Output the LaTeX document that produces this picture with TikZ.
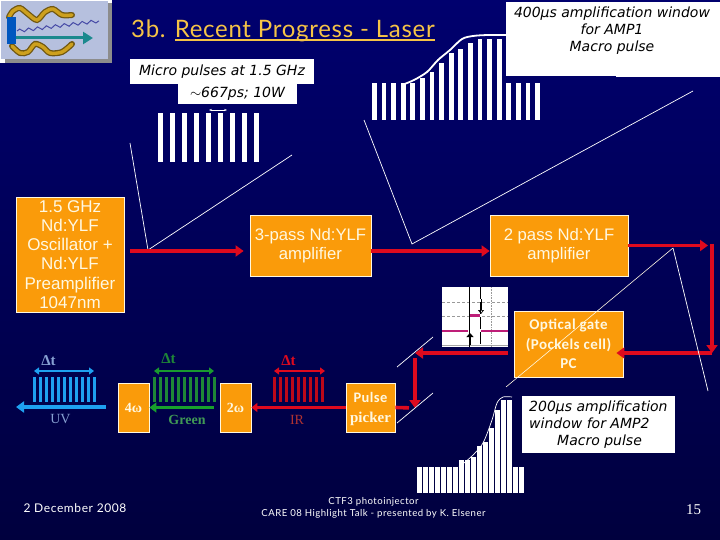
\documentclass[tikz,border=0pt]{standalone}
\usepackage{fontspec}
\setmainfont{Liberation Sans}
\newfontfamily\titlefont[LetterSpace=3]{Lato}
\newfontfamily\footfont[LetterSpace=5]{Lato}
\newfontfamily\notefont{DejaVu Sans}
\newfontfamily\serfont{Liberation Serif}
\newfontfamily\gatefont[LetterSpace=3]{Carlito}
\newcommand{\goldline}[1]{\setbox0=\hbox{#1}\rlap{\rule[-3.5pt]{\wd0}{2pt}}\box0}
\definecolor{navytop}{RGB}{0, 0, 110}
\definecolor{navymid}{RGB}{0, 0, 98}
\definecolor{navylow}{RGB}{0, 0, 62}
\definecolor{boxfill}{RGB}{250, 155, 10}
\definecolor{boxtext}{RGB}{255, 248, 225}
\definecolor{beam}{RGB}{222, 10, 30}
\definecolor{uvblue}{RGB}{30, 160, 240}
\definecolor{uvtext}{RGB}{135, 160, 210}
\definecolor{beamgreen}{RGB}{30, 135, 55}
\definecolor{irtext}{RGB}{175, 50, 50}
\definecolor{titlegold}{RGB}{245, 195, 70}
\definecolor{logoblue}{RGB}{182, 192, 222}
\definecolor{logogold}{RGB}{205, 160, 30}
\definecolor{scopetrace}{RGB}{190, 30, 120}
\usetikzlibrary{arrows.meta, calc, decorations.pathmorphing}
\tikzset{
  ampbox/.style={draw=boxtext, line width=0.8pt, fill=boxfill, text=boxtext, inner sep=0pt, align=center},
  notebox/.style={fill=white, text=black, inner sep=0pt, font=\notefont\itshape\fontsize{14}{17}\selectfont},
  beamline/.style={beam, line width=3.6pt},
  beamarrow/.style={beamline, -{Triangle[length=8pt,width=11pt]}},
  zoomline/.style={white, line width=0.7pt},
  dtarrow/.style={line width=2pt, {Triangle[length=5pt,width=7pt]}-{Triangle[length=5pt,width=7pt]}},
  dtlabel/.style={font=\serfont\bfseries\fontsize{15}{15}\selectfont, inner sep=0pt},
  wavelabel/.style={font=\serfont\fontsize{14}{14}\selectfont, inner sep=0pt}
}
\begin{document}
\begin{tikzpicture}[y=-1pt, x=1pt]
  \useasboundingbox (0,0) rectangle (720,540);
  \shade[top color=navytop, middle color=navymid, bottom color=navylow] (0,0) rectangle (720,540);

  \fill[white] (0,0) rectangle (112,63);
  \fill[black!45] (5,3) rectangle (112,63);
  \fill[logoblue] (1,1) rectangle (108,59);
  \draw[logogold!55!black, line width=6pt, line cap=round] plot[smooth] coordinates {(9,17) (13,11) (20,8) (28,14) (37,20) (45,12) (53,9) (62,15) (72,15)};
  \draw[logogold, line width=3.4pt, line cap=round] plot[smooth] coordinates {(9,17) (13,11) (20,8) (28,14) (37,20) (45,12) (53,9) (62,15) (72,15)};
  \draw[logogold!55!black, line width=6pt, line cap=round] plot[smooth] coordinates {(12,46) (20,53) (28,52) (35,44) (43,47) (50,53) (62,52) (72,44)};
  \draw[logogold, line width=3.4pt, line cap=round] plot[smooth] coordinates {(12,46) (20,53) (28,52) (35,44) (43,47) (50,53) (62,52) (72,44)};
  \draw[blue!45!logoblue!70!black, line width=1pt, decorate, decoration={snake, amplitude=1.6pt, segment length=9pt}] (17,31) -- (99,21);
  \draw[teal!85!logoblue, line width=3pt, -{Triangle[length=10pt,width=12pt]}] (16,38) -- (93,38);
  \fill[blue!55!cyan!75!black] (7,17) rectangle (16,44);

  \node[text=titlegold, font=\titlefont\fontsize{24}{24}\selectfont, anchor=base west, inner sep=0pt] (slidetitle) at (131,38) {3b. \goldline{Recent Progress - Laser}};

  \foreach \i in {0,...,8} {
    \fill[white] ({158+12*\i},113) rectangle ({163+12*\i},162);
  }
  \foreach \i/\top in {0/83,1/83,2/83,3/83,4/83,5/78,6/72,7/63,8/53,9/49,10/43,11/39,12/39,13/39,14/83,15/83,16/83,17/83} {
    \fill[white] ({372+9.6*\i},\top) rectangle ({376.8+9.6*\i},120);
  }
  \draw[white, line width=1.8pt] plot[smooth] coordinates {(402,85) (414,80) (427,72) (438,60) (450,50) (462,39) (473,36) (488,35) (508,35)};
  \draw[white, line width=1pt] (616,77) -- (720,77);
  \node[notebox, minimum width=214pt, minimum height=74pt, anchor=north west] (amponenote) at (506,2) {};
  \node[notebox, align=center] (amponetext) at (612,31) {400μs amplification window\\for AMP1\hspace{-3pt}\\Macro pulse\hspace{14pt}};

  \node[notebox, minimum width=184pt, minimum height=25pt] (microtop) at (222,71.5) {Micro pulses at 1.5 GHz};
  \node[notebox, minimum width=119pt, minimum height=20pt] (microlow) at (237.5,94) {$\sim$667ps; 10W};
  \coordinate (spacingleft) at (209,110);
  \coordinate (spacingright) at (227,110);
  \draw[white, line width=0.8pt, {Stealth[length=3pt]}-{Stealth[length=3pt]}] (spacingleft) -- (spacingright);

  \coordinate (viewoneA) at (130,143);
  \coordinate (viewoneB) at (148,250);
  \coordinate (viewoneC) at (292,155);
  \draw[zoomline] (viewoneA) -- (viewoneB) -- (viewoneC);
  \coordinate (viewtwoA) at (364,120);
  \coordinate (viewtwoB) at (412,244);
  \coordinate (viewtwoC) at (693,91);
  \draw[zoomline] (viewtwoA) -- (viewtwoB) -- (viewtwoC);

  \node[ampbox, minimum width=108pt, minimum height=115pt, font=\fontsize{17}{19.2}\selectfont] (oscillator) at (70,254.5) {1.5 GHz\\Nd:YLF\\Oscillator +\\Nd:YLF\\Preamplifier\\1047nm};
  \node[ampbox, minimum width=121pt, minimum height=61pt, font=\fontsize{16.7}{19}\selectfont] (threepass) at (310.5,245.5) {3-pass Nd:YLF\hspace{5pt}\\amplifier};
  \node[ampbox, minimum width=138pt, minimum height=61pt, font=\fontsize{16.7}{19}\selectfont] (twopass) at (559,245.5) {2 pass Nd:YLF\hspace{5pt}\\amplifier};
  \node[ampbox, minimum width=109pt, minimum height=66pt, font=\gatefont\bfseries\fontsize{15}{19.5}\selectfont] (opticalgate) at (568.5,344) {Optical gate\\(Pockels cell)\\PC};
  \node[ampbox, minimum width=31pt, minimum height=49pt, font=\serfont\bfseries\fontsize{14}{14}\selectfont] (fouromega) at (133.5,407.5) {4ω};
  \node[ampbox, minimum width=31pt, minimum height=49pt, font=\serfont\bfseries\fontsize{14}{14}\selectfont] (twoomega) at (235.5,407.5) {2ω};
  \node[ampbox, minimum width=49pt, minimum height=49pt, font=\gatefont\bfseries\fontsize{14.5}{20}\selectfont] (pulsepicker) at (370.5,407.5) {\rule{0pt}{14pt}Pulse\\{\serfont\fontsize{15}{20}\selectfont picker}};

  \fill[white] (442,287) rectangle (508,347);
  \draw[black!35, line width=0.8pt] (442,345) -- (508,345);
  \draw[black!40, densely dashed, line width=0.5pt] (442,302) -- (508,302);
  \draw[black!40, densely dashed, line width=0.5pt] (442,316) -- (508,316);
  \draw[black!40, densely dotted, line width=0.6pt] (491,287) -- (491,347);
  \draw[black, line width=0.8pt] (469,287) -- (469,347);
  \draw[black, line width=0.8pt, dash pattern=on 12pt off 3pt] (480,287) -- (480,347);
  \draw[scopetrace, line width=2.6pt] (442,331) -- (468,331);
  \draw[scopetrace, line width=2.6pt] (481,331) -- (508,331);
  \draw[scopetrace, line width=2.6pt] (470,315.5) -- (480,315.5);
  \draw[black, line width=1.3pt, -{Triangle[length=4pt,width=7pt]}] (470,345) -- (470,333);
  \draw[black, line width=0.7pt, -{Triangle[open,length=4pt,width=6pt]}] (481,299) -- (481,314);

  \coordinate (upperline) at (130,251);
  \coordinate (turnright) at (708,245.5);
  \coordinate (turntop) at (712,243.5);
  \coordinate (turnlow) at (712,353);
  \coordinate (mirrorup) at (415,353);
  \coordinate (mirrorlow) at (415,408);
  \draw[beamarrow, shorten <=6pt, shorten >=6pt] (oscillator.east |- upperline) -- (threepass.west |- upperline);
  \draw[beamarrow] (threepass.east |- upperline) -- (twopass.west |- upperline);
  \draw[beamarrow] (twopass.east) -- (turnright);
  \draw[beamline, -{Triangle[length=8pt,width=11pt]}] (turntop) -- (turnlow);
  \draw[beamarrow, shorten >=-7pt] (turnlow) -- (opticalgate.east |- turnlow);
  \draw[beamarrow, shorten <=6pt] (opticalgate.west |- turnlow) -- (mirrorup);
  \draw[beamarrow, shorten <=5pt] (mirrorup) -- (mirrorlow);
  \draw[beamline, shorten <=6pt] (mirrorlow) -- (pulsepicker.east);
  \draw[beamline, -{Triangle[length=6pt,width=9pt]}] (pulsepicker.west) -- (twoomega.east);
  \draw[beamgreen!80!green, line width=3.6pt, shorten <=6pt, -{Triangle[length=7pt,width=10pt]}] (twoomega.west) -- (fouromega.east);
  \coordinate (uvend) at (16,407);
  \draw[uvblue, line width=4pt, shorten <=12pt, -{Triangle[length=8pt,width=11pt]}] (fouromega.west |- uvend) -- (uvend);

  \coordinate (mirrorupA) at (397,367);
  \coordinate (mirrorupB) at (433,337);
  \coordinate (mirrorlowA) at (397,423);
  \coordinate (mirrorlowB) at (433,393);
  \draw[zoomline] (mirrorupA) -- (mirrorupB);
  \draw[zoomline] (mirrorlowA) -- (mirrorlowB);

  \coordinate (viewthreeA) at (673,248);
  \coordinate (viewthreeB) at (506,387);
  \coordinate (viewthreeC) at (708,391);
  \draw[boxtext, line width=0.6pt] (viewthreeB) -- (viewthreeA);
  \draw[zoomline] (viewthreeA) -- (viewthreeC);

  \foreach \i in {0,...,10} {
    \fill[uvblue] ({33+6*\i},377) rectangle ({36+6*\i},402);
    \fill[beamgreen] ({153+6*\i},377) rectangle ({156+6*\i},402);
  }
  \foreach \i in {0,...,8} {
    \fill[beam!85!black] ({273+6*\i},377) rectangle ({276+6*\i},402);
  }
  \coordinate (uvleft) at (34,371);
  \coordinate (uvright) at (94,371);
  \coordinate (greenleft) at (154,371);
  \coordinate (greenright) at (214,371);
  \coordinate (irleft) at (274,371);
  \coordinate (irright) at (325,371);
  \draw[dtarrow, uvblue] (uvleft) -- (uvright);
  \draw[dtarrow, beamgreen!85!green] (greenleft) -- (greenright);
  \draw[dtarrow, beam] (irleft) -- (irright);
  \node[dtlabel, text=uvtext] (uvdelta) at (48.5,360.5) {Δt};
  \node[dtlabel, text=beamgreen] (greendelta) at (168.5,358.5) {Δt};
  \node[dtlabel, text=beam] (irdelta) at (288.5,360.5) {Δt};
  \node[wavelabel, text=uvtext] (uvlabel) at (60.5,419.5) {UV};
  \node[wavelabel, text=beamgreen!85!white, font=\serfont\bfseries\fontsize{14}{14}\selectfont] (greenlabel) at (187,419.5) {Green};
  \node[wavelabel, text=irtext] (irlabel) at (297,419.5) {IR};

  \foreach \i/\top in {0/467,1/467,2/467,3/467,4/467,5/467,6/467,7/460,8/460,9/457,10/446,11/442,12/428,13/410,14/400,15/400,16/467,17/467} {
    \fill[white] ({417+6*\i},\top) rectangle ({422+6*\i},493);
  }
  \draw[white, line width=0.7pt] plot[smooth] coordinates {(459,467) (472,456) (483,443) (492,420) (497,403) (503,397) (512,397)};
  \node[notebox, minimum width=153pt, minimum height=57pt] (amptwonote) at (598.5,424.5) {};
  \node[notebox, align=left, anchor=west] (amptwotext) at (529,424.5) {200μs amplification\\window for AMP2\\\hspace*{28pt}Macro pulse};

  \node[text=white, font=\footfont\fontsize{12}{12}\selectfont, inner sep=0pt] (datelabel) at (75,508.5) {2 December 2008};
  \node[text=white, font=\footfont\fontsize{9.6}{12}\selectfont, inner sep=0pt, align=center] (talklabel) at (373.5,508) {CTF3 photoinjector\\CARE 08 Highlight Talk - presented by K. Elsener};
  \node[text=white, font=\serfont\fontsize{15}{15}\selectfont, inner sep=0pt] (pagelabel) at (693.5,510) {15};
\end{tikzpicture}
\end{document}
